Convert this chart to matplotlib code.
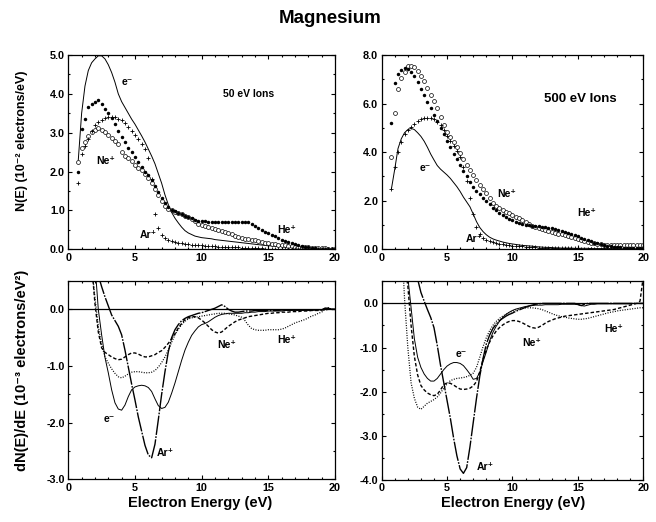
import numpy as np
import matplotlib
matplotlib.use('Agg')
import matplotlib.pyplot as plt
from matplotlib.ticker import MultipleLocator, FormatStrFormatter

plt.rcParams['font.family'] = ['Liberation Sans', 'DejaVu Sans']
plt.rcParams['font.weight'] = 'bold'
plt.rcParams['axes.unicode_minus'] = False

# energy grids (eV)
energy_top = np.arange(0.75, 20.01, 0.25)
energy_bot = np.arange(1.5, 20.01, 0.25)
nan = np.nan

# ---- N(E), 50 eV ions (10^-2 electrons/eV) ----
n50_e = [2.3,
         3.5, 4.2, 4.6, 4.8,  4.9, 4.98, 4.98, 4.9,  4.75, 4.55, 4.3, 4.0,
         3.8, 3.65, 3.5, 3.35,  3.22, 3.07, 2.92, 2.76,  2.58, 2.4, 2.2, 1.95,
         1.7, 1.4, 1.15, 0.95,  0.8, 0.68, 0.57, 0.48,  0.42, 0.38, 0.34, 0.32,
         0.3, 0.29, 0.28, 0.27,  0.25, 0.24, 0.23, 0.22,  0.21, 0.2, 0.19, 0.18,
         0.17, 0.16, 0.15, 0.14,  0.13, 0.12, 0.11, 0.1,  0.09, 0.09, 0.08, 0.08,
         0.07, 0.06, 0.06, 0.05,  0.05, 0.04, 0.04, 0.03,  0.03, 0.02, 0.02, 0.02,
         0.01, 0.01, 0.01, 0.0,  0.0]
n50_he = [2.0,
          3.1, 3.35, 3.65, 3.75,  3.78, 3.85, 3.75, 3.62,  3.52, 3.38, 3.22, 3.05,
          2.88, 2.75, 2.62, 2.5,  2.38, 2.25, 2.12, 2.0,  1.9, 1.78, 1.62, 1.47,
          1.33, 1.2, 1.08, 1.02,  0.98, 0.94, 0.9, 0.87,  0.84, 0.8, 0.76, 0.74,
          0.72, 0.72, 0.71, 0.71,  0.7, 0.7, 0.7, 0.7,  0.7, 0.71, 0.71, 0.71,
          0.71, 0.7, 0.69, 0.66,  0.61, 0.56, 0.5, 0.45,  0.41, 0.37, 0.33, 0.29,
          0.25, 0.22, 0.19, 0.16,  0.13, 0.11, 0.09, 0.07,  0.05, 0.04, 0.03, 0.02,
          0.01, 0.01, 0.0, 0.0,  0.0]
n50_ar = [1.7,
          2.45, 2.65, 2.85, 3.05,  3.2, 3.28, 3.33, 3.38,  3.4, 3.4, 3.4, 3.36,
          3.32, 3.25, 3.15, 3.05,  2.95, 2.85, 2.72, 2.58,  2.35, 1.8, 0.9, 0.55,
          0.38, 0.3, 0.25, 0.22,  0.19, 0.17, 0.15, 0.14,  0.13, 0.12, 0.11, 0.11,
          0.1, 0.09, 0.09, 0.08,  0.08, 0.07, 0.07, 0.06,  0.06, 0.05, 0.05, 0.05,
          0.04, 0.04, 0.04, 0.03,  0.03, 0.03, 0.03, 0.02,  0.02, 0.02, 0.02, 0.02,
          0.02, 0.01, 0.01, 0.01,  0.01, 0.01, 0.01, 0.01,  0.01, 0.01, 0.0, 0.0,
          0.0, 0.0, 0.0, 0.0,  0.0]
n50_ne = [2.25,
          2.6, 2.75, 2.92, 3.02,  3.08, 3.12, 3.08, 3.02,  2.94, 2.86, 2.8, 2.7,
          2.5, 2.4, 2.34, 2.26,  2.18, 2.1, 2.03, 1.93,  1.83, 1.7, 1.56, 1.4,
          1.24, 1.12, 1.05, 1.0,  0.97, 0.94, 0.9, 0.86,  0.82, 0.77, 0.72, 0.66,
          0.62, 0.6, 0.57, 0.54,  0.51, 0.49, 0.47, 0.44,  0.42, 0.39, 0.35, 0.31,
          0.28, 0.27, 0.26, 0.25,  0.23, 0.21, 0.19, 0.17,  0.15, 0.14, 0.13, 0.12,
          0.11, 0.1, 0.09, 0.08,  0.07, 0.07, 0.06, 0.05,  0.05, 0.04, 0.04, 0.03,
          0.03, 0.03, 0.02, 0.02,  0.02]

# ---- N(E), 500 eV ions ----
n500_e = [2.5,
          3.3, 4.15, 4.55, 4.8,  4.93, 4.98, 4.93, 4.8,  4.65, 4.45, 4.2, 3.92,
          3.68, 3.45, 3.3, 3.18,  3.06, 2.92, 2.75, 2.58,  2.38, 2.15, 1.95, 1.75,
          1.45, 1.14, 0.9, 0.73,  0.6, 0.5, 0.43, 0.38,  0.34, 0.3, 0.27, 0.24,
          0.22, 0.2, 0.18, 0.16,  0.15, 0.14, 0.13, 0.11,  0.1, 0.09, 0.08, 0.08,
          0.07, 0.06, 0.06, 0.05,  0.05, 0.05, 0.05, 0.04,  0.04, 0.04, 0.04, 0.04,
          0.03, 0.03, 0.03, 0.03,  0.03, 0.03, 0.03, 0.03,  0.02, 0.02, 0.02, 0.02,
          0.02, 0.02, 0.02, 0.02,  0.02]
n500_ne = [3.8,
           5.6, 6.6, 7.05, 7.3,  7.55, 7.55, 7.5, 7.35,  7.15, 6.92, 6.65, 6.37,
           6.1, 5.8, 5.45, 5.1,  4.85, 4.63, 4.42, 4.2,  3.95, 3.7, 3.47, 3.25,
           3.05, 2.85, 2.65, 2.47,  2.3, 2.1, 1.9, 1.78,  1.7, 1.62, 1.55, 1.48,
           1.41, 1.34, 1.27, 1.2,  1.12, 1.05, 0.98, 0.92,  0.86, 0.82, 0.78, 0.74,
           0.71, 0.68, 0.65, 0.62,  0.58, 0.55, 0.5, 0.46,  0.42, 0.38, 0.34, 0.3,
           0.27, 0.24, 0.22, 0.2,  0.19, 0.18, 0.18, 0.17,  0.17, 0.17, 0.16, 0.16,
           0.16, 0.16, 0.16, 0.16,  0.16]
n500_he = [5.2,
           6.85, 7.2, 7.4, 7.48,  7.42, 7.3, 7.12, 6.9,  6.62, 6.35, 6.08, 5.8,
           5.53, 5.27, 5.0, 4.73,  4.47, 4.2, 3.93, 3.7,  3.47, 3.23, 3.0, 2.78,
           2.58, 2.42, 2.27, 2.12,  1.98, 1.85, 1.7, 1.6,  1.5, 1.42, 1.34, 1.26,
           1.19, 1.13, 1.08, 1.05,  1.02, 1.0, 0.98, 0.96,  0.94, 0.92, 0.9, 0.88,
           0.86, 0.83, 0.8, 0.77,  0.73, 0.68, 0.64, 0.59,  0.53, 0.48, 0.43, 0.38,
           0.33, 0.28, 0.24, 0.2,  0.17, 0.14, 0.12, 0.1,  0.09, 0.08, 0.07, 0.07,
           0.06, 0.06, 0.05, 0.05,  0.05]
n500_ar = [2.5,
           3.4, 4.0, 4.4, 4.75,  4.9, 5.05, 5.18, 5.28,  5.35, 5.4, 5.42, 5.4,
           5.35, 5.24, 5.1, 4.9,  4.68, 4.45, 4.25, 4.05,  3.8, 3.4, 2.8, 2.1,
           1.45, 0.9, 0.62, 0.47,  0.38, 0.33, 0.29, 0.26,  0.23, 0.21, 0.19, 0.17,
           0.15, 0.14, 0.13, 0.12,  0.11, 0.1, 0.09, 0.08,  0.07, 0.07, 0.06, 0.06,
           0.05, 0.05, 0.05, 0.05,  0.05, 0.04, 0.04, 0.04,  0.04, 0.03, 0.03, 0.03,
           0.03, 0.03, 0.03, 0.03,  0.03, 0.03, 0.02, 0.02,  0.02, 0.02, 0.02, 0.02,
           0.02, 0.02, 0.02, 0.02,  0.02]

# ---- dN(E)/dE, 50 eV ions (10^-3 electrons/eV^2) ----
d50_e = [nan, nan,
         0.8, 0.0, -0.45, -0.85,  -1.12, -1.42, -1.65, -1.76,
         -1.78, -1.69, -1.54, -1.42,  -1.37, -1.35, -1.34, -1.35,
         -1.38, -1.45, -1.58, -1.7,  -1.75, -1.73, -1.64, -1.48,
         -1.3, -1.1, -0.9, -0.72,  -0.58, -0.46, -0.38, -0.31,
         -0.27, -0.25, -0.22, -0.18,  -0.14, -0.11, -0.09, -0.08,
         -0.07, -0.07, -0.07, -0.07,  -0.07, -0.06, -0.06, -0.05,
         -0.05, -0.04, -0.04, -0.04,  -0.03, -0.03, -0.03, -0.03,
         -0.03, -0.02, -0.02, -0.02,  -0.02, -0.02, -0.02, -0.02,
         -0.02, -0.02, -0.01, -0.01,  -0.01, 0.02, 0.01, 0.0,  0.0]
d50_ar = [nan, nan,
          nan, 0.6, 0.4, 0.22,  0.06, -0.1, -0.2, -0.3,
          -0.45, -0.72, -1.02, -1.32,  -1.6, -1.9, -2.15, -2.4,
          -2.57, -2.62, -2.38, -1.95,  -1.5, -1.1, -0.75, -0.5,
          -0.36, -0.27, -0.2, -0.16,  -0.13, -0.11, -0.09, -0.07,
          -0.06, -0.04, -0.02, 0.0,  0.02, 0.05, 0.08, 0.05,
          0.0, -0.03, -0.05, -0.05,  -0.04, -0.03, -0.03, -0.03,
          -0.02, -0.02, -0.02, -0.02,  -0.02, -0.02, -0.02, -0.02,
          -0.01, -0.01, -0.01, -0.01,  -0.01, -0.01, -0.01, -0.01,
          -0.01, -0.01, -0.01, -0.01,  -0.01, 0.02, 0.02, 0.0,  0.0]
d50_ne = [nan, 0.8,
          0.1, -0.4, -0.68, -0.76,  -0.8, -0.84, -0.87, -0.89,
          -0.88, -0.84, -0.8, -0.77,  -0.77, -0.79, -0.82, -0.84,
          -0.84, -0.82, -0.8, -0.76,  -0.73, -0.67, -0.6, -0.52,
          -0.43, -0.33, -0.25, -0.18,  -0.15, -0.13, -0.13, -0.15,
          -0.19, -0.24, -0.3, -0.36,  -0.4, -0.42, -0.4, -0.35,
          -0.3, -0.26, -0.22, -0.19,  -0.17, -0.15, -0.13, -0.12,
          -0.11, -0.1, -0.09, -0.08,  -0.07, -0.07, -0.06, -0.06,
          -0.05, -0.05, -0.05, -0.04,  -0.04, -0.04, -0.03, -0.03,
          -0.03, -0.02, -0.02, -0.02,  -0.01, -0.01, 0.0, 0.0,  0.0]
d50_he = [nan, 0.75,
          0.2, -0.3, -0.62, -0.84,  -0.95, -1.05, -1.13, -1.19,
          -1.21, -1.18, -1.14, -1.11,  -1.1, -1.1, -1.11, -1.12,
          -1.12, -1.11, -1.08, -1.02,  -0.94, -0.84, -0.72, -0.58,
          -0.45, -0.35, -0.27, -0.21,  -0.17, -0.15, -0.14, -0.13,
          -0.12, -0.11, -0.1, -0.09,  -0.08, -0.07, -0.07, -0.07,
          -0.08, -0.09, -0.1, -0.12,  -0.14, -0.2, -0.28, -0.34,
          -0.36, -0.37, -0.37, -0.37,  -0.36, -0.36, -0.36, -0.36,
          -0.35, -0.33, -0.3, -0.27,  -0.24, -0.22, -0.2, -0.18,
          -0.15, -0.12, -0.1, -0.07,  -0.05, 0.0, 0.03, 0.0,  -0.01]

# ---- dN(E)/dE, 500 eV ions ----
d500_e = [nan, nan,
          0.6, -0.1, -0.8, -1.22,  -1.45, -1.6, -1.7, -1.76,
          -1.76, -1.7, -1.6, -1.5,  -1.42, -1.37, -1.34, -1.34,
          -1.36, -1.41, -1.5, -1.6,  -1.72, -1.7, -1.56, -1.32,
          -1.1, -0.85, -0.66, -0.52,  -0.41, -0.32, -0.25, -0.2,
          -0.16, -0.13, -0.11, -0.09,  -0.07, -0.06, -0.05, -0.04,
          -0.04, -0.04, -0.03, -0.03,  -0.03, -0.03, -0.03, -0.02,
          -0.02, -0.02, -0.02, -0.02,  -0.03, -0.05, -0.06, -0.04,
          -0.02, -0.02, -0.01, -0.01,  -0.01, -0.01, -0.01, -0.01,
          -0.01, -0.01, -0.01, -0.01,  -0.01, 0.0, 0.0, 0.0,  0.0]
d500_ar = [nan, nan,
           nan, nan, nan, 0.55,  0.25, 0.05, -0.14, -0.32,
           -0.55, -0.95, -1.4, -1.8,  -2.2, -2.6, -3.05, -3.45,
           -3.75, -3.85, -3.72, -3.25,  -2.7, -2.15, -1.65, -1.25,
           -0.92, -0.72, -0.57, -0.47,  -0.39, -0.34, -0.29, -0.25,
           -0.22, -0.18, -0.15, -0.12,  -0.09, -0.06, -0.04, -0.02,
           -0.01, 0.0, 0.0, 0.0,  0.0, 0.0, 0.0, 0.0,
           0.0, 0.0, 0.0, 0.0,  -0.02, -0.05, -0.02, 0.0,
           0.0, 0.0, 0.0, 0.0,  0.0, 0.0, 0.0, 0.0,
           0.0, 0.0, 0.0, 0.0,  0.0, 0.0, 0.0, 0.0,  0.0]
d500_ne = [nan, 0.9,
           0.4, -0.5, -1.2, -1.62,  -1.86, -1.96, -2.03, -2.07,
           -2.09, -2.06, -1.96, -1.84,  -1.8, -1.81, -1.85, -1.9,
           -1.94, -1.95, -1.94, -1.92,  -1.87, -1.77, -1.55, -1.27,
           -1.05, -0.88, -0.74, -0.63,  -0.55, -0.49, -0.44, -0.41,
           -0.39, -0.39, -0.41, -0.44,  -0.48, -0.52, -0.55, -0.56,
           -0.54, -0.5, -0.45, -0.41,  -0.38, -0.35, -0.33, -0.31,
           -0.29, -0.28, -0.27, -0.26,  -0.25, -0.24, -0.23, -0.22,
           -0.21, -0.2, -0.19, -0.18,  -0.17, -0.16, -0.15, -0.14,
           -0.12, -0.1, -0.08, -0.06,  -0.04, -0.02, 0.0, 0.05,  0.6]
d500_he = [1.6, 0.1,
           -1.0, -1.8, -2.15, -2.35,  -2.4, -2.33, -2.26, -2.22,
           -2.18, -2.12, -2.03, -1.92,  -1.82, -1.75, -1.72, -1.7,
           -1.69, -1.68, -1.66, -1.63,  -1.58, -1.45, -1.22, -0.98,
           -0.78, -0.62, -0.5, -0.41,  -0.34, -0.29, -0.25, -0.21,
           -0.18, -0.15, -0.13, -0.11,  -0.1, -0.1, -0.1, -0.11,
           -0.12, -0.14, -0.17, -0.2,  -0.23, -0.26, -0.28, -0.3,
           -0.31, -0.33, -0.34, -0.35,  -0.36, -0.36, -0.35, -0.34,
           -0.32, -0.3, -0.28, -0.26,  -0.24, -0.22, -0.2, -0.19,
           -0.17, -0.16, -0.15, -0.14,  -0.13, -0.12, -0.11, -0.1,  -0.1]

# text labels inside panels: (text, x, y, size)
labels_tl = [('e\u207b', 4.4, 4.3, 7.5), ('50 eV Ions', 13.5, 4.0, 7.5),
             ('Ne\u207a', 2.8, 2.27, 7.5), ('Ar\u207a', 6.0, 0.38, 7.5),
             ('He\u207a', 16.4, 0.49, 7.5)]
labels_tr = [('500 eV Ions', 15.2, 6.2, 9.5), ('e\u207b', 3.3, 3.33, 7.5),
             ('Ne\u207a', 9.55, 2.28, 7.5), ('Ar\u207a', 7.05, 0.41, 7.5),
             ('He\u207a', 15.7, 1.48, 7.5)]
labels_bl = [('e\u207b', 3.1, -1.94, 7.5), ('Ar\u207a', 7.25, -2.54, 7.5),
             ('Ne\u207a', 11.9, -0.63, 7.5), ('He\u207a', 16.4, -0.54, 7.5)]
labels_br = [('e\u207b', 6.1, -1.15, 7.5), ('Ar\u207a', 7.9, -3.7, 7.5),
             ('Ne\u207a', 11.5, -0.9, 7.5), ('He\u207a', 17.7, -0.59, 7.5)]


def style_axes(ax, ylim, ymajor, yminor):
    ax.set_xlim(0, 20)
    ax.set_ylim(*ylim)
    ax.xaxis.set_major_locator(MultipleLocator(5))
    ax.xaxis.set_minor_locator(MultipleLocator(1))
    ax.yaxis.set_major_locator(MultipleLocator(ymajor))
    ax.yaxis.set_minor_locator(MultipleLocator(yminor))
    ax.yaxis.set_major_formatter(FormatStrFormatter('%.1f'))
    ax.tick_params(which='both', direction='in', top=True, right=True,
                   labelsize=7.8, width=0.8)
    ax.tick_params(which='major', length=3, pad=2.5)
    ax.tick_params(which='minor', length=1.5)
    for lab in ax.get_xticklabels() + ax.get_yticklabels():
        lab.set_fontweight('bold')
    for sp in ax.spines.values():
        sp.set_linewidth(0.9)


def put_labels(ax, labels):
    for txt, x, y, size in labels:
        ax.text(x, y, txt, fontsize=size, fontweight='bold',
                ha='center', va='center')


def top_panel(ax, e, he, ar, ne):
    ax.plot(energy_top, e, color='black', lw=0.7)
    ax.plot(energy_top, ne, 'o', ms=2.8, mfc='white', mec='black', mew=0.5)
    ax.plot(energy_top, ar, '+', ms=3.2, color='black', mew=0.6)
    ax.plot(energy_top, he, 'o', ms=2.5, color='black', mew=0)


def bottom_panel(ax, e, ar, ne, he):
    ax.axhline(0, color='black', lw=0.9)
    ax.plot(energy_bot, e, color='black', lw=0.7)
    ax.plot(energy_bot, ar, color='black', lw=1.0, ls=(0, (14, 1, 1.2, 1)))
    ax.plot(energy_bot, ne, color='black', lw=1.0, ls=(0, (2.5, 1.5)))
    ax.plot(energy_bot, he, color='black', lw=0.9, ls=(0, (0.8, 1.2)))


fig = plt.figure(figsize=(6.56, 5.22), dpi=100)

ax_tl = fig.add_axes([0.1041, 0.5224, 0.4066, 0.3722])
ax_tr = fig.add_axes([0.5818, 0.5224, 0.3988, 0.3722])
ax_bl = fig.add_axes([0.1041, 0.0818, 0.4066, 0.3799])
ax_br = fig.add_axes([0.5818, 0.0805, 0.3988, 0.3806])

top_panel(ax_tl, n50_e, n50_he, n50_ar, n50_ne)
top_panel(ax_tr, n500_e, n500_he, n500_ar, n500_ne)
bottom_panel(ax_bl, d50_e, d50_ar, d50_ne, d50_he)
bottom_panel(ax_br, d500_e, d500_ar, d500_ne, d500_he)

style_axes(ax_tl, (0, 5.0), 1.0, 0.5)
style_axes(ax_tr, (0, 8.0), 2.0, 1.0)
style_axes(ax_bl, (-3.0, 0.5), 1.0, 0.5)
style_axes(ax_br, (-4.0, 0.5), 1.0, 0.5)

put_labels(ax_tl, labels_tl)
put_labels(ax_tr, labels_tr)
put_labels(ax_bl, labels_bl)
put_labels(ax_br, labels_br)

fig.text(0.503, 0.965, 'Magnesium', fontsize=13.5, fontweight='bold',
         ha='center', va='center')
fig.text(0.034, 0.73, 'N(E) (10\u207b\u00b2 electrons/eV)', fontsize=9,
         fontweight='bold', rotation=90, ha='center', va='center')
fig.text(0.034, 0.291, 'dN(E)/dE (10\u207b\u00b3 electrons/eV\u00b2)', fontsize=10.5,
         fontweight='bold', rotation=90, ha='center', va='center')
fig.text(0.305, 0.036, 'Electron Energy (eV)', fontsize=10.5, fontweight='bold',
         ha='center', va='center')
fig.text(0.782, 0.036, 'Electron Energy (eV)', fontsize=10.5, fontweight='bold',
         ha='center', va='center')

fig.savefig('out.png', dpi=100)
